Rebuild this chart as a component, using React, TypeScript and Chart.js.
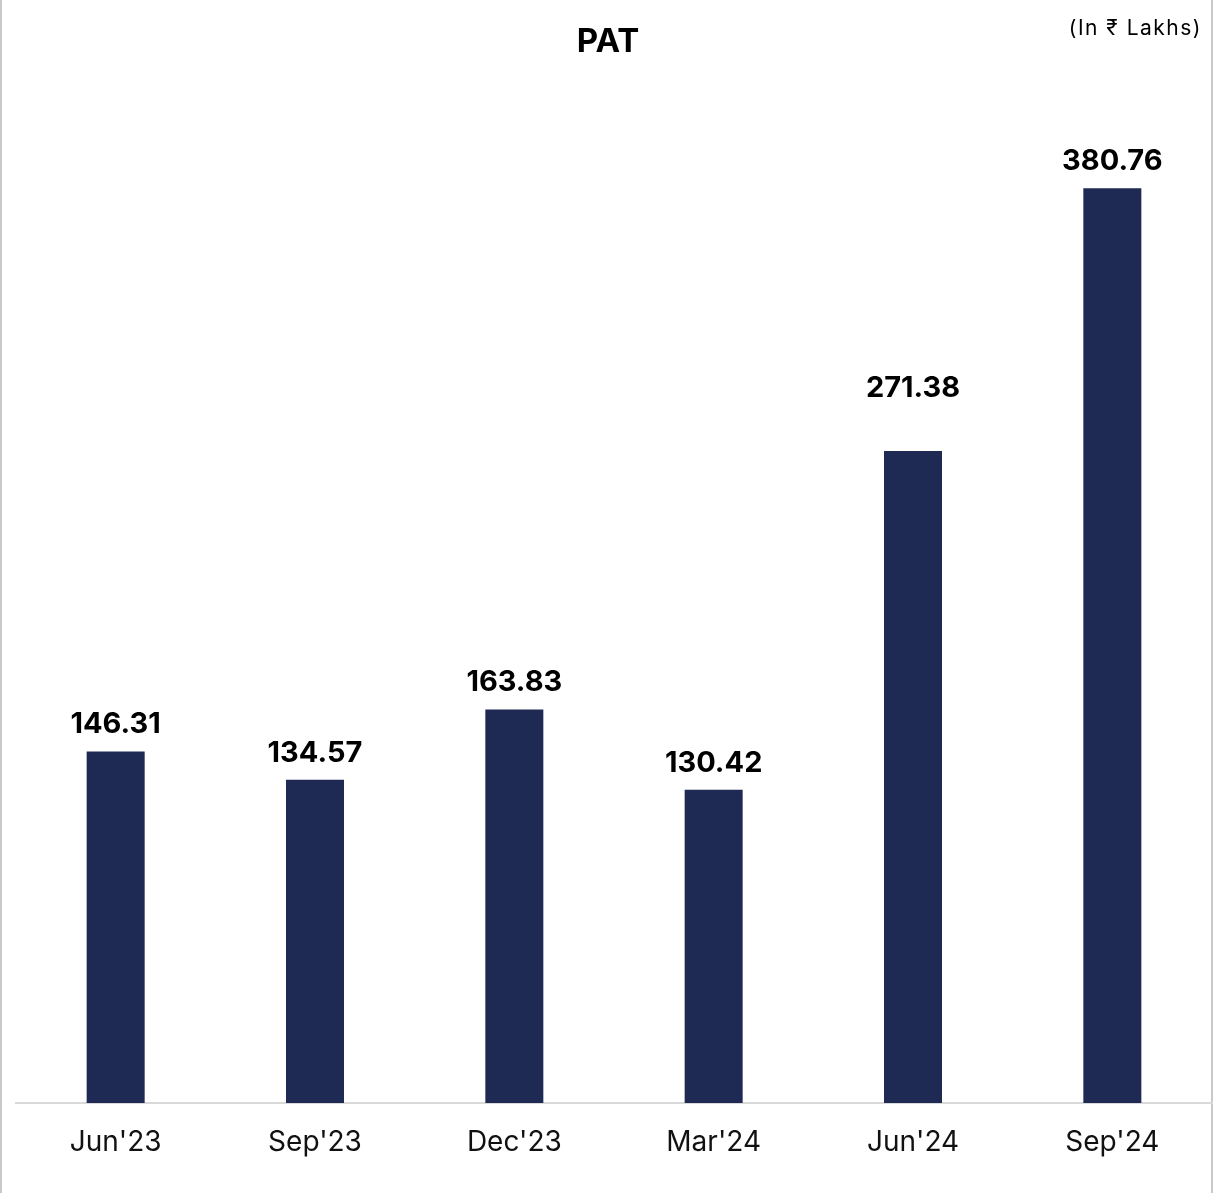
import React, { useEffect, useRef } from "react";
import { Chart, registerables } from "chart.js";

Chart.register(...registerables);

const categories = ["Jun'23", "Sep'23", "Dec'23", "Mar'24", "Jun'24", "Sep'24"];
const patValues = [146.31, 134.57, 163.83, 130.42, 271.38, 380.76];
const valueLabels = ["146.31", "134.57", "163.83", "130.42", "271.38", "380.76"];
const chartTitle = "PAT";
const unitNote = "(In \u20B9 Lakhs)";
const yMax = 400;

const FONT = "Inter, 'Noto Sans', sans-serif";
const BAR_COLOR = "#1f2a54";
// gap (px) between bar top and its value label baseline
const LABEL_GAPS = [18, 18, 18, 18, 54, 18];

export default function App() {
  const canvasRef = useRef<HTMLCanvasElement | null>(null);

  useEffect(() => {
    document.body.style.margin = "0";
    const canvas = canvasRef.current;
    if (!canvas) return;

    const overlay = {
      id: "overlay",
      beforeDraw(chart: any) {
        const ctx = chart.ctx;
        ctx.save();
        ctx.fillStyle = "#ffffff";
        ctx.fillRect(0, 0, chart.width, chart.height);
        ctx.fillStyle = "#c9c9c9";
        ctx.fillRect(0, 0, 2, chart.height);
        ctx.fillRect(chart.width - 2, 0, 2, chart.height);
        ctx.restore();
      },
      afterDatasetsDraw(chart: any) {
        const ctx = chart.ctx;
        ctx.save();
        ctx.fillStyle = "#000000";
        ctx.textAlign = "center";
        ctx.textBaseline = "alphabetic";
        ctx.font = `bold 33px ${FONT}`;
        ctx.fillText(chartTitle, 608, 52);
        ctx.font = `21px ${FONT}`;
        ctx.textAlign = "right";
        try { (ctx as any).letterSpacing = "1.5px"; } catch (e) {}
        ctx.fillText(unitNote, 1202, 35);
        try { (ctx as any).letterSpacing = "0px"; } catch (e) {}
        const meta = chart.getDatasetMeta(0);
        ctx.textAlign = "center";
        ctx.font = `bold 29px ${FONT}`;
        meta.data.forEach((bar: any, i: number) => {
          ctx.fillText(valueLabels[i], bar.x, bar.y - LABEL_GAPS[i]);
        });
        ctx.restore();
      },
    };

    const chart = new Chart(canvas, {
      type: "bar",
      data: {
        labels: categories,
        datasets: [
          {
            label: chartTitle,
            data: patValues,
            backgroundColor: BAR_COLOR,
            borderWidth: 0,
            barPercentage: 0.291,
            categoryPercentage: 1,
          },
        ],
      },
      options: {
        responsive: false,
        animation: false,
        devicePixelRatio: 1,
        layout: { padding: { top: 142, left: 16, right: 1, bottom: 0 } },
        plugins: {
          legend: { display: false },
          title: { display: false },
          tooltip: { enabled: false },
        },
        scales: {
          x: {
            grid: { display: false, drawTicks: false },
            border: { display: true, color: "#d9d9d9", width: 2 },
            ticks: {
              color: "#111111",
              font: { family: FONT, size: 28 },
              padding: 23,
              maxRotation: 0,
            },
            afterFit: (s: any) => {
              s.height = 90;
            },
          },
          y: {
            display: false,
            min: 0,
            max: yMax,
            grid: { display: false },
          },
        },
      },
      plugins: [overlay],
    });

    return () => chart.destroy();
  }, []);

  return (
    <div style={{ width: 1213, height: 1193 }}>
      <canvas ref={canvasRef} width={1213} height={1193} style={{ display: "block" }} />
    </div>
  );
}
